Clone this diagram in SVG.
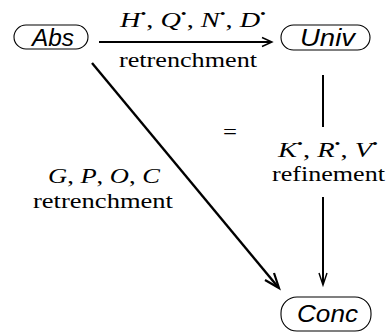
<svg xmlns="http://www.w3.org/2000/svg" width="387" height="333" viewBox="0 0 387 333">
<style>
.node{fill:#fff;stroke:#000;stroke-width:1.1}
.nt{font-family:"Liberation Sans",Arial,sans-serif;font-style:italic;font-size:23px}
.lb{font-family:"Liberation Serif","Times New Roman",serif;font-size:22px}
.it{font-style:italic}
.ln{fill:none;stroke:#000;stroke-width:2}
.ah{fill:none;stroke:#000;stroke-width:1.4}
</style>
<rect width="387" height="333" fill="#fff"/>
<g id="Abs"><rect class="node" x="14" y="25" width="74" height="24" rx="12"/><text class="nt" x="32" y="46" textLength="42" lengthAdjust="spacingAndGlyphs">Abs</text></g>
<g id="Univ"><rect class="node" x="281" y="25" width="89" height="25" rx="12.5"/><text class="nt" x="300" y="46" textLength="55" lengthAdjust="spacingAndGlyphs">Univ</text></g>
<g id="Conc"><rect class="node" x="281" y="297" width="90" height="34" rx="16"/><text class="nt" x="297" y="322" textLength="61" lengthAdjust="spacingAndGlyphs">Conc</text></g>
<g id="connectors">
<line class="ln" x1="99" y1="42" x2="271" y2="42"/>
<path class="ah" d="M262,37.5 L272,42 L262,46.5"/>
<line class="ln" x1="323" y1="75" x2="323" y2="127"/>
<line class="ln" x1="323" y1="197" x2="323" y2="284"/>
<path class="ah" d="M319,273 L323,285 L327,273"/>
<line class="ln" x1="92" y1="63" x2="278" y2="287" style="stroke-width:2.4"/>
<path class="ah" d="M265,280 L279,288 L274,273" style="stroke-width:2.2"/>
</g>
<g id="labels">
<text class="lb" x="120" y="27" textLength="146" lengthAdjust="spacingAndGlyphs"><tspan class="it">H</tspan><tspan dy="-9" font-size="13">•</tspan><tspan dy="9">, </tspan><tspan class="it">Q</tspan><tspan dy="-9" font-size="13">•</tspan><tspan dy="9">, </tspan><tspan class="it">N</tspan><tspan dy="-9" font-size="13">•</tspan><tspan dy="9">, </tspan><tspan class="it">D</tspan><tspan dy="-9" font-size="13">•</tspan></text>
<text class="lb" x="119" y="67" textLength="138" lengthAdjust="spacingAndGlyphs">retrenchment</text>
<text class="lb" x="223" y="139" textLength="14" lengthAdjust="spacingAndGlyphs">=</text>
<text class="lb" x="278" y="157" textLength="100" lengthAdjust="spacingAndGlyphs"><tspan class="it">K</tspan><tspan dy="-9" font-size="13">•</tspan><tspan dy="9">, </tspan><tspan class="it">R</tspan><tspan dy="-9" font-size="13">•</tspan><tspan dy="9">, </tspan><tspan class="it">V</tspan><tspan dy="-9" font-size="13">•</tspan></text>
<text class="lb" x="272" y="181" textLength="113" lengthAdjust="spacingAndGlyphs">refinement</text>
<text class="lb" x="48" y="183" textLength="112" lengthAdjust="spacingAndGlyphs"><tspan class="it">G</tspan>, <tspan class="it">P</tspan>, <tspan class="it">O</tspan>, <tspan class="it">C</tspan></text>
<text class="lb" x="33" y="208" textLength="140" lengthAdjust="spacingAndGlyphs">retrenchment</text>
</g>
</svg>
